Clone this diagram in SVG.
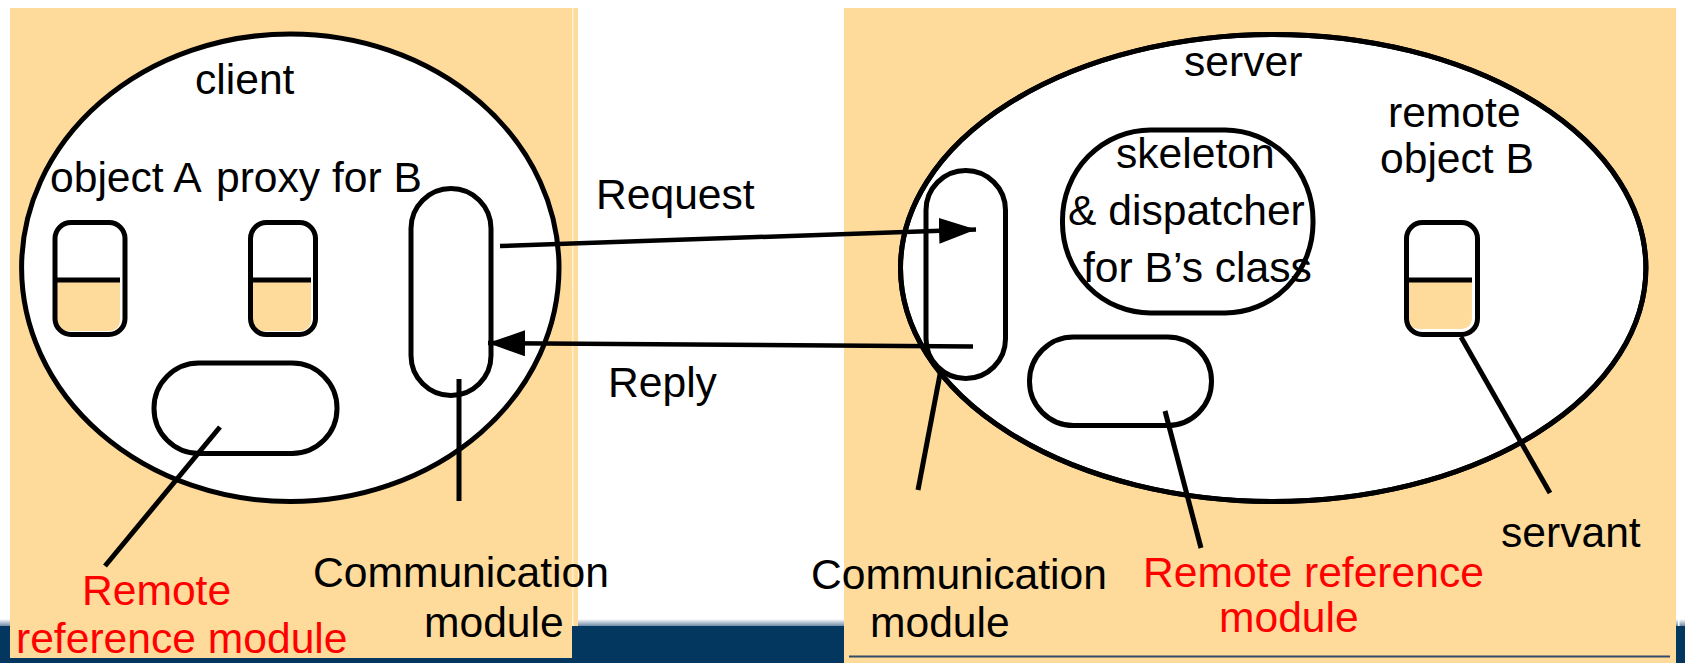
<svg xmlns="http://www.w3.org/2000/svg" width="1685" height="663" viewBox="0 0 1685 663">
<defs>
<style>
.panel{fill:#FEDB9A}
.proc{fill:#fff;stroke:#000;stroke-width:5}
.rim{fill:none;stroke:#000;stroke-width:5}
.pill{fill:#fff;stroke:#000;stroke-width:5}
.box{fill:none;stroke:#000;stroke-width:5}
.half{fill:#FEDB9A}
.div{stroke:#000;stroke-width:5}
.t{font-family:"Liberation Sans",Arial,sans-serif;font-size:42.6px;fill:#000}
.red{fill:#FF0000}
.ptr{stroke:#000;stroke-width:5;fill:none}
.arrow{stroke:#000;stroke-width:4.5;fill:none;marker-end:url(#ah)}
</style>
<marker id="ah" markerUnits="userSpaceOnUse" markerWidth="40" markerHeight="28" refX="37" refY="13" orient="auto">
<path d="M0,0 L37,13 L0,26 z" fill="#000"/>
</marker>
<linearGradient id="barTop" x1="0" y1="0" x2="0" y2="1">
<stop offset="0" stop-color="#ffffff"/>
<stop offset="1" stop-color="#6f8ba6"/>
</linearGradient>
</defs>

<g id="background">
<rect x="0" y="0" width="1685" height="663" fill="#fff"/>
<rect x="0" y="619" width="1685" height="7" fill="url(#barTop)"/>
<rect x="0" y="626" width="1685" height="37" fill="#03375F"/>
<rect class="panel" x="10" y="8" width="568" height="618"/>
<rect class="panel" x="10" y="625" width="562" height="33"/>
<rect x="572" y="8" width="1.5" height="618" fill="#fff" opacity="0.6"/>
<rect class="panel" x="844" y="8" width="832" height="655"/>
<rect x="849" y="655.5" width="821" height="2" fill="#334a66"/>
<rect x="1678" y="8" width="1.5" height="618" fill="#fff"/>
</g>

<g id="client">
<ellipse class="proc" cx="290.3" cy="267.8" rx="268.7" ry="233.8"/>
<text class="t" x="195" y="94">client</text>
</g>

<g id="object-A">
<path class="half" d="M57,282 H120 V319 Q120,331 108,331 H69 Q57,331 57,319 Z"/>
<line class="div" x1="57" y1="280" x2="120" y2="280"/>
<rect class="box" x="55" y="222.5" width="70" height="112" rx="16"/>
<text class="t" x="50" y="192">object A</text>
</g>

<g id="proxy-B">
<path class="half" d="M253,282 H311 V319 Q311,331 299,331 H265 Q253,331 253,319 Z"/>
<line class="div" x1="253" y1="280" x2="311" y2="280"/>
<rect class="box" x="250.5" y="222.5" width="65" height="112" rx="16"/>
<text class="t" x="216" y="192">proxy for B</text>
</g>

<g id="client-comm">
<rect class="pill" x="411" y="188.5" width="80" height="207" rx="40"/>
<text class="t" x="313" y="587">Communication</text>
<text class="t" x="424" y="637">module</text>
</g>

<g id="client-rrm">
<rect class="pill" x="154" y="363" width="183" height="90.5" rx="45"/>
<text class="t red" x="82" y="605">Remote</text>
<text class="t red" x="16" y="653">reference module</text>
</g>

<g id="server">
<ellipse class="proc" cx="1273.2" cy="268" rx="372.7" ry="233.5"/>
<text class="t" x="1184" y="76">server</text>
</g>

<g id="server-comm">
<rect class="pill" x="926" y="170.5" width="79.5" height="208" rx="39.75"/>
<ellipse class="rim" cx="1273.2" cy="268" rx="372.7" ry="233.5"/>
<text class="t" x="811" y="589">Communication</text>
<text class="t" x="870" y="637">module</text>
</g>

<g id="skeleton">
<rect class="pill" x="1062.5" y="130" width="250.5" height="183" rx="88" ry="90"/>
<text class="t" x="1116" y="168">skeleton</text>
<text class="t" x="1068" y="225">&amp; dispatcher</text>
<text class="t" x="1083" y="282">for B’s class</text>
</g>

<g id="server-rrm">
<rect class="pill" x="1029.5" y="337" width="182" height="88.5" rx="44"/>
<text class="t red" x="1143" y="587">Remote reference</text>
<text class="t red" x="1219" y="632">module</text>
</g>

<g id="remote-object-B">
<path class="half" d="M1408,282 H1472 V317 Q1472,329 1460,329 H1420 Q1408,329 1408,317 Z"/>
<line class="div" x1="1408" y1="280" x2="1472" y2="280"/>
<rect class="box" x="1406.5" y="222.5" width="71" height="112" rx="16"/>
<text class="t" x="1388" y="127">remote</text>
<text class="t" x="1380" y="173">object B</text>
<text class="t" x="1501" y="547">servant</text>
</g>

<g id="connectors">
<line class="arrow" x1="500" y1="246" x2="976" y2="229.5"/>
<line class="arrow" x1="973" y1="346.5" x2="488" y2="343"/>
<text class="t" x="596" y="209">Request</text>
<text class="t" x="608" y="397">Reply</text>
<line class="ptr" x1="459" y1="379" x2="459" y2="501"/>
<line class="ptr" x1="220" y1="427" x2="105" y2="566"/>
<line class="ptr" x1="941" y1="369" x2="918" y2="490"/>
<line class="ptr" x1="1165" y1="411" x2="1201" y2="548"/>
<line class="ptr" x1="1461" y1="337" x2="1550" y2="493"/>
</g>
</svg>
